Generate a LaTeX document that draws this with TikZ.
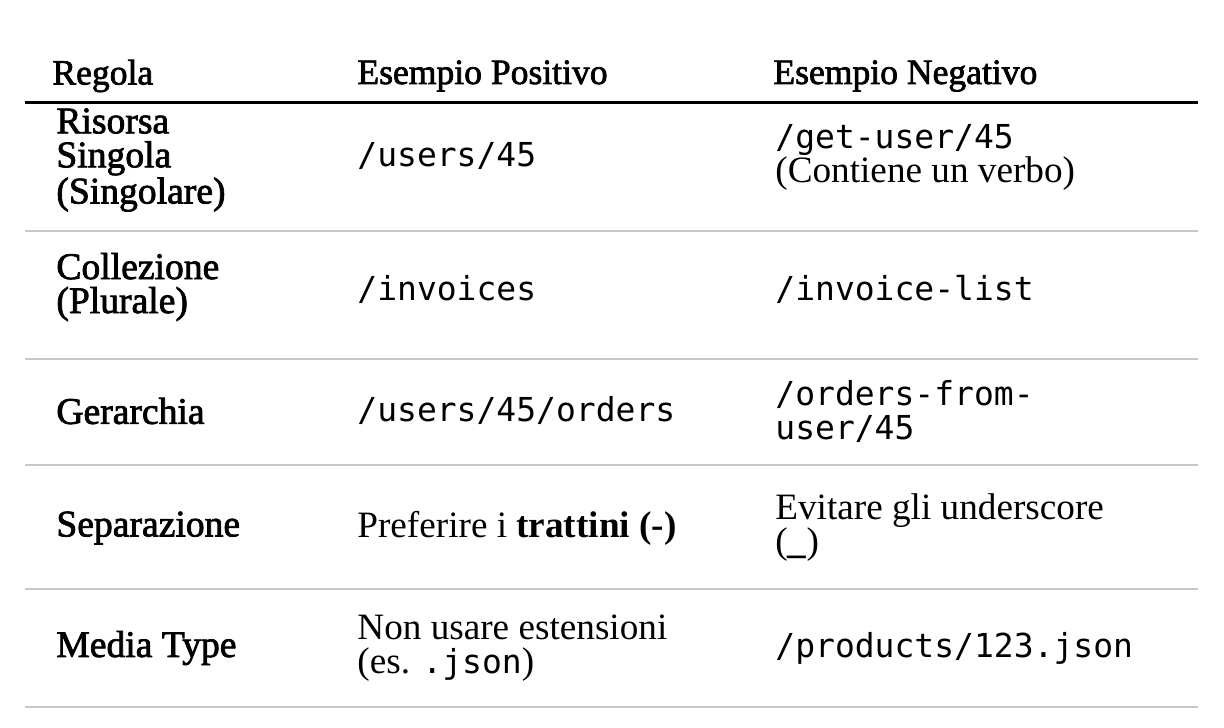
\documentclass[tikz,border=0pt]{standalone}
\usepackage{fontspec}
\setmainfont{Liberation Serif}
\setmonofont{DejaVu Sans Mono}
\newfontface\semibold{Liberation Serif}[FakeBold=2]
\newcommand\mono[1]{{\fontsize{16.5}{17}\selectfont\ttfamily #1}}

\begin{document}
\begin{tikzpicture}[x=0.5pt, y=-0.5pt,
    cell/.style ={anchor=west, inner sep=0pt, align=left,
                  font=\fontsize{18.6}{17}\selectfont},
    rulename/.style ={cell, font=\fontsize{18.8}{17}\selectfont\semibold},
    head/.style ={cell, font=\fontsize{17.8}{17.8}\selectfont\semibold},
    sep/.style  ={line width=0.8pt, draw=black!22}]
   \useasboundingbox (0,0) rectangle (1224,727);
   % header
   \node[head] (rule) at (52,76)  {Regola};
   \node[head] (pos)  at (357,76) {Esempio Positivo};
   \node[head] (neg)  at (773,76) {Esempio Negativo};
   \draw[line width=1.5pt] (25,103) -- (1198,103);
   % rows
   \node[rulename] (rule1) at (56,160) {Risorsa\\Singola\\(Singolare)};
   \node[cell] (pos1)  at (357,156) {\mono{/users/45}};
   \node[cell] (neg1)  at (775,157) {\mono{/get-user/45}\\(Contiene un verbo)};
   \node[rulename] (rule2) at (56,287) {Collezione\\(Plurale)};
   \node[cell] (pos2)  at (357,289) {\mono{/invoices}};
   \node[cell] (neg2)  at (775,289) {\mono{/invoice-list}};
   \node[rulename] (rule3) at (56,411) {Gerarchia};
   \node[cell] (pos3)  at (357,410) {\mono{/users/45/orders}};
   \node[cell] (neg3)  at (775,411) {\mono{/orders-from-}\\\mono{user/45}};
   \node[rulename] (rule4) at (56,528) {Separazione};
   \node[cell] (pos4)  at (357,528) {Preferire i \textbf{trattini (-)}};
   \node[cell] (neg4)  at (775,528) {Evitare gli underscore\\(\textbf{\_})};
   \node[rulename] (rule5) at (56,648) {Media Type};
   \node[cell] (pos5)  at (357,648) {Non usare estensioni\\(es. \mono{.json})};
   \node[cell] (neg5)  at (775,648) {\mono{/products/123.json}};
   \foreach \y in {231,359,465,589,707}
     \draw[sep] (25,\y) -- (1198,\y);
\end{tikzpicture}
\end{document}
